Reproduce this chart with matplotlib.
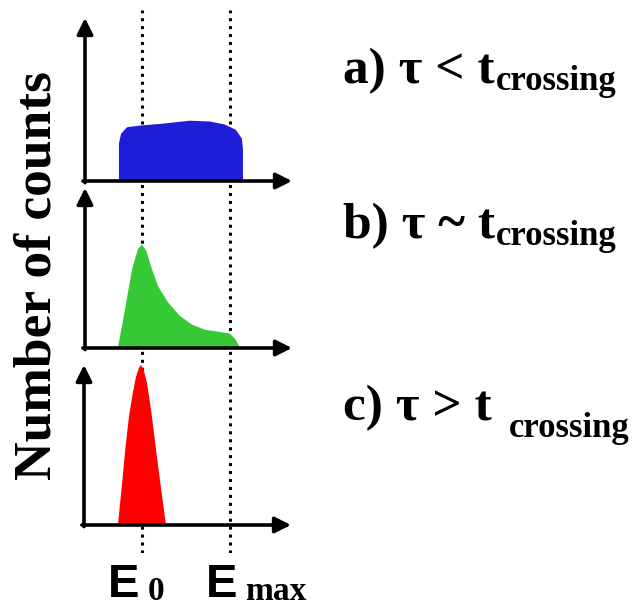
import numpy as np
import matplotlib.pyplot as plt

# energy axis runs 0..10 (arbitrary units), counts 0..1
E0 = 2.75
EMAX = 7.0

# a) tau < t_crossing : flat plateau
blue_x = [1.64, 1.64, 1.74, 2.03, 2.66, 3.62, 5.07, 6.04, 6.76, 7.29, 7.58, 7.63, 7.63]
blue_y = [0.0, 0.23, 0.29, 0.33, 0.34, 0.35, 0.37, 0.365, 0.346, 0.314, 0.26, 0.195, 0.0]

# b) tau ~ t_crossing : peak at E0 with tail to Emax
green_x = [1.59, 1.93, 2.27, 2.56, 2.75, 2.95, 3.24, 3.53, 4.01, 4.59, 5.17, 5.80, 6.52, 7.0, 7.29, 7.49]
green_y = [0.0, 0.24, 0.49, 0.62, 0.645, 0.61, 0.49, 0.386, 0.285, 0.20, 0.146, 0.114, 0.10, 0.09, 0.05, 0.0]

# c) tau > t_crossing : narrow peak at E0
red_x = [1.64, 1.84, 2.0, 2.17, 2.35, 2.51, 2.65, 2.75, 2.88, 3.04, 3.25, 3.48, 3.72, 3.96]
red_y = [0.0, 0.26, 0.48, 0.675, 0.82, 0.925, 0.98, 1.0, 0.97, 0.89, 0.71, 0.47, 0.23, 0.0]

panel_labels = ["a) τ < t", "b) τ ~ t", "c) τ > t"]
sub_label = "crossing"

W, H = 634, 609


def box(left, top, right, bottom):
    return [left / W, 1 - bottom / H, (right - left) / W, (bottom - top) / H]


fig = plt.figure(figsize=(W / 100, H / 100), dpi=100)

# dotted guide lines at E0 and Emax across all panels
bg = fig.add_axes(box(85, 10, 292, 553))
bg.set_xlim(0, 10)
bg.set_ylim(0, 1)
bg.axis("off")
for e in [E0, EMAX]:
    bg.axvline(e, color="k", lw=2.2, linestyle=(0, (1, 1.6)))

panels = [
    (box(85, 18, 292, 181), blue_x, blue_y, "#1e1ed8"),
    (box(85, 188, 292, 348), green_x, green_y, "#36c936"),
    (box(84, 365, 291, 525), red_x, red_y, "#ff0000"),
]

for pos, xs, ys, col in panels:
    ax = fig.add_axes(pos)
    ax.set_xlim(0, 10)
    ax.set_ylim(0, 1)
    ax.axis("off")
    ax.fill(xs, ys, color=col, lw=0, zorder=2)
    arrow = dict(arrowstyle="-|>", lw=2.6, color="k", mutation_scale=24,
                 shrinkA=0, shrinkB=0)
    ax.annotate("", xy=(1, 0), xytext=(-0.01, 0), xycoords="axes fraction",
                arrowprops=arrow, zorder=3)
    ax.annotate("", xy=(0, 1), xytext=(0, -0.01), xycoords="axes fraction",
                arrowprops=arrow, zorder=3)

# y label
fig.text(38 / W, 1 - 276 / H, "Number of counts", rotation=90, ha="center",
         va="center", family="Liberation Serif", weight="bold", fontsize=38.5)

# case labels on the right (main text, then subscript placed after it)
baselines = [83, 238, 420]
sub_gap = [1, 1, 17]      # px after the "t"
sub_drop = [7, 7, 17]     # px below main baseline
mains = []
for lab, yb in zip(panel_labels, baselines):
    t = fig.text(343 / W, 1 - yb / H, lab, ha="left", va="baseline",
                 family="Liberation Serif", weight="bold", fontsize=37)
    mains.append(t)

fig.canvas.draw()
for t, yb, gap, drop in zip(mains, baselines, sub_gap, sub_drop):
    bb = t.get_window_extent()
    fig.text((bb.x1 + gap) / W, 1 - (yb + drop) / H, sub_label, ha="left",
             va="baseline", family="Liberation Serif", weight="bold", fontsize=25)

# energy labels below the bottom panel
for x0, sub in [(108, "0"), (206, "max")]:
    t = fig.text(x0 / W, 1 - 597 / H, "E", ha="left", va="baseline",
                 family="Liberation Sans", weight="bold", fontsize=34)
    plt.annotate(sub, xy=(1, 0), xycoords=t, xytext=(8, 0),
                 textcoords="offset pixels", ha="left", va="bottom",
                 family="Liberation Serif", weight="bold", fontsize=24)

fig.savefig("out.png", dpi=100)
